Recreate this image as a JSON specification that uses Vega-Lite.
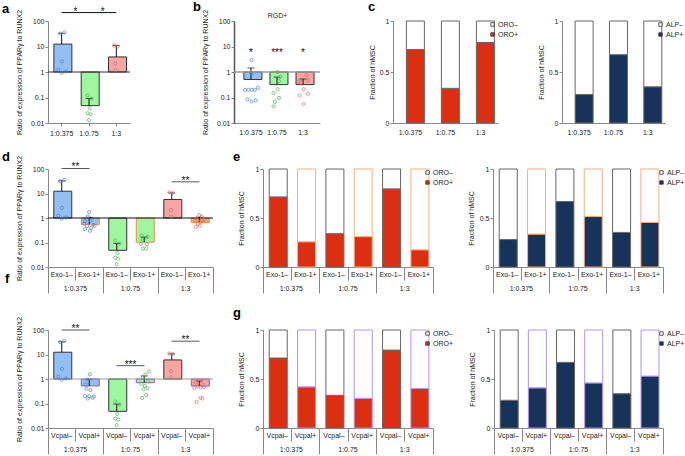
{
  "$schema": "https://vega.github.io/schema/vega-lite/v6.json",
  "padding": {"left": 2, "top": 0, "right": 0, "bottom": 0},
  "config": {
    "font": "Liberation Sans",
    "view": {"stroke": null},
    "axis": {"labelFontSize": 7, "titleFontSize": 7, "titleFontWeight": "normal", "labelColor": "#222", "titleColor": "#222", "domainColor": "#888", "tickColor": "#888", "grid": false, "tickSize": 3, "labelPadding": 1, "labelAngle": 0},
    "legend": {"labelFontSize": 7, "labelColor": "#222", "symbolType": "square", "symbolSize": 12, "symbolStrokeColor": "#333", "symbolStrokeWidth": 0.8, "rowPadding": 2, "padding": 0, "title": null, "labelOffset": 2},
    "title": {"fontSize": 13, "fontWeight": "bold", "anchor": "start", "frame": "group", "color": "#000", "baseline": "alphabetic", "offset": 5}
  },
  "datasets": {
    "a_bar": [
      {"c": "1:0.375", "m": 12.4, "hi": 33},
      {"c": "1:0.75", "m": 0.048, "hi": 0.092},
      {"c": "1:3", "m": 3.9, "hi": 11}
    ],
    "a_pt": [
      {"c": "1:0.375", "v": 36, "j": 0.2}, {"c": "1:0.375", "v": 32, "j": -0.1}, {"c": "1:0.375", "v": 2.6, "j": 0.02}, {"c": "1:0.375", "v": 1.25, "j": -0.25}, {"c": "1:0.375", "v": 0.93, "j": 0.0}, {"c": "1:0.375", "v": 1.05, "j": 0.32},
      {"c": "1:0.75", "v": 0.12, "j": -0.1}, {"c": "1:0.75", "v": 0.09, "j": 0.2}, {"c": "1:0.75", "v": 0.037, "j": 0.05}, {"c": "1:0.75", "v": 0.024, "j": -0.1}, {"c": "1:0.75", "v": 0.022, "j": 0.12}, {"c": "1:0.75", "v": 0.013, "j": 0.0},
      {"c": "1:3", "v": 11, "j": -0.17}, {"c": "1:3", "v": 10, "j": 0.08}, {"c": "1:3", "v": 2.2, "j": -0.07}, {"c": "1:3", "v": 1.15, "j": -0.07}
    ],
    "a_sig": [
      {"c": "1:0.375", "to": "1:0.75", "y": 214, "label": "*"},
      {"c": "1:0.75", "to": "1:3", "y": 214, "label": "*"}
    ],
    "b_bar": [
      {"c": "1:0.375", "m": 0.51, "hi": 1.44},
      {"c": "1:0.75", "m": 0.32, "hi": 0.63},
      {"c": "1:3", "m": 0.32, "hi": 0.53}
    ],
    "b_pt": [
      {"c": "1:0.375", "v": 2.9, "j": 0}, {"c": "1:0.375", "v": 0.85, "j": 0}, {"c": "1:0.375", "v": 0.2, "j": -0.48}, {"c": "1:0.375", "v": 0.2, "j": -0.23}, {"c": "1:0.375", "v": 0.2, "j": 0.02}, {"c": "1:0.375", "v": 0.2, "j": 0.23}, {"c": "1:0.375", "v": 0.24, "j": 0.46}, {"c": "1:0.375", "v": 0.085, "j": -0.3}, {"c": "1:0.375", "v": 0.07, "j": 0}, {"c": "1:0.375", "v": 0.077, "j": 0.3},
      {"c": "1:0.75", "v": 1.0, "j": 0}, {"c": "1:0.75", "v": 0.65, "j": 0.2}, {"c": "1:0.75", "v": 0.44, "j": 0.1}, {"c": "1:0.75", "v": 0.21, "j": 0}, {"c": "1:0.75", "v": 0.15, "j": -0.3}, {"c": "1:0.75", "v": 0.097, "j": 0.1}, {"c": "1:0.75", "v": 0.068, "j": -0.2}, {"c": "1:0.75", "v": 0.045, "j": -0.3},
      {"c": "1:3", "v": 0.74, "j": 0.2}, {"c": "1:3", "v": 0.47, "j": 0.3}, {"c": "1:3", "v": 0.38, "j": -0.2}, {"c": "1:3", "v": 0.42, "j": -0.4}, {"c": "1:3", "v": 0.21, "j": 0}, {"c": "1:3", "v": 0.14, "j": 0.3}, {"c": "1:3", "v": 0.12, "j": -0.3}, {"c": "1:3", "v": 0.056, "j": 0}
    ],
    "b_sig": [
      {"c": "1:0.375", "y": 5, "label": "*"},
      {"c": "1:0.75", "y": 5, "label": "***"},
      {"c": "1:3", "y": 5, "label": "*"}
    ],
    "c_oro": [
      {"c": "1:0.375", "s": "ORO+", "f": 0.72}, {"c": "1:0.375", "s": "ORO–", "f": 0.28},
      {"c": "1:0.75", "s": "ORO+", "f": 0.34}, {"c": "1:0.75", "s": "ORO–", "f": 0.66},
      {"c": "1:3", "s": "ORO+", "f": 0.79}, {"c": "1:3", "s": "ORO–", "f": 0.21}
    ],
    "c_alp": [
      {"c": "1:0.375", "s": "ALP+", "f": 0.28}, {"c": "1:0.375", "s": "ALP–", "f": 0.72},
      {"c": "1:0.75", "s": "ALP+", "f": 0.67}, {"c": "1:0.75", "s": "ALP–", "f": 0.33},
      {"c": "1:3", "s": "ALP+", "f": 0.355}, {"c": "1:3", "s": "ALP–", "f": 0.645}
    ],
    "d_bar": [
      {"k": "1:0.375 Exo-1–", "g": "1:0.375", "t": "Exo-1–", "m": 12.4, "hi": 33},
      {"k": "1:0.375 Exo-1+", "g": "1:0.375", "t": "Exo-1+", "m": 0.55, "hi": 1.07},
      {"k": "1:0.75 Exo-1–", "g": "1:0.75", "t": "Exo-1–", "m": 0.048, "hi": 0.092},
      {"k": "1:0.75 Exo-1+", "g": "1:0.75", "t": "Exo-1+", "m": 0.103, "hi": 0.166},
      {"k": "1:3 Exo-1–", "g": "1:3", "t": "Exo-1–", "m": 5.7, "hi": 10.6},
      {"k": "1:3 Exo-1+", "g": "1:3", "t": "Exo-1+", "m": 0.66, "hi": 1.07}
    ],
    "d_pt": [
      {"k": "1:0.375 Exo-1–", "g": "1:0.375", "v": 36, "j": 0.2}, {"k": "1:0.375 Exo-1–", "g": "1:0.375", "v": 32, "j": -0.1}, {"k": "1:0.375 Exo-1–", "g": "1:0.375", "v": 2.6, "j": 0.02}, {"k": "1:0.375 Exo-1–", "g": "1:0.375", "v": 1.25, "j": -0.25}, {"k": "1:0.375 Exo-1–", "g": "1:0.375", "v": 0.93, "j": 0.0}, {"k": "1:0.375 Exo-1–", "g": "1:0.375", "v": 1.05, "j": 0.32},
      {"k": "1:0.375 Exo-1+", "g": "1:0.375", "v": 1.76, "j": 0.0}, {"k": "1:0.375 Exo-1+", "g": "1:0.375", "v": 1.17, "j": -0.1}, {"k": "1:0.375 Exo-1+", "g": "1:0.375", "v": 0.78, "j": 0.1}, {"k": "1:0.375 Exo-1+", "g": "1:0.375", "v": 0.58, "j": -0.35}, {"k": "1:0.375 Exo-1+", "g": "1:0.375", "v": 0.53, "j": 0.3}, {"k": "1:0.375 Exo-1+", "g": "1:0.375", "v": 0.47, "j": -0.15}, {"k": "1:0.375 Exo-1+", "g": "1:0.375", "v": 0.39, "j": 0.15}, {"k": "1:0.375 Exo-1+", "g": "1:0.375", "v": 0.35, "j": -0.3}, {"k": "1:0.375 Exo-1+", "g": "1:0.375", "v": 0.30, "j": 0.05}, {"k": "1:0.375 Exo-1+", "g": "1:0.375", "v": 0.48, "j": 0.4}, {"k": "1:0.375 Exo-1+", "g": "1:0.375", "v": 0.75, "j": -0.3},
      {"k": "1:0.75 Exo-1–", "g": "1:0.75", "v": 0.12, "j": -0.1}, {"k": "1:0.75 Exo-1–", "g": "1:0.75", "v": 0.09, "j": 0.2}, {"k": "1:0.75 Exo-1–", "g": "1:0.75", "v": 0.037, "j": 0.05}, {"k": "1:0.75 Exo-1–", "g": "1:0.75", "v": 0.024, "j": -0.1}, {"k": "1:0.75 Exo-1–", "g": "1:0.75", "v": 0.022, "j": 0.12}, {"k": "1:0.75 Exo-1–", "g": "1:0.75", "v": 0.013, "j": 0.0},
      {"k": "1:0.75 Exo-1+", "g": "1:0.75", "v": 0.19, "j": -0.2}, {"k": "1:0.75 Exo-1+", "g": "1:0.75", "v": 0.17, "j": 0.25}, {"k": "1:0.75 Exo-1+", "g": "1:0.75", "v": 0.146, "j": 0.0}, {"k": "1:0.75 Exo-1+", "g": "1:0.75", "v": 0.13, "j": -0.1}, {"k": "1:0.75 Exo-1+", "g": "1:0.75", "v": 0.088, "j": -0.25}, {"k": "1:0.75 Exo-1+", "g": "1:0.75", "v": 0.057, "j": -0.1}, {"k": "1:0.75 Exo-1+", "g": "1:0.75", "v": 0.057, "j": 0.15}, {"k": "1:0.75 Exo-1+", "g": "1:0.75", "v": 0.085, "j": 0.2},
      {"k": "1:3 Exo-1–", "g": "1:3", "v": 11, "j": -0.17}, {"k": "1:3 Exo-1–", "g": "1:3", "v": 10.5, "j": 0.08}, {"k": "1:3 Exo-1–", "g": "1:3", "v": 2.1, "j": -0.05}, {"k": "1:3 Exo-1–", "g": "1:3", "v": 1.15, "j": -0.05},
      {"k": "1:3 Exo-1+", "g": "1:3", "v": 1.33, "j": 0.0}, {"k": "1:3 Exo-1+", "g": "1:3", "v": 1.1, "j": 0.2}, {"k": "1:3 Exo-1+", "g": "1:3", "v": 0.94, "j": -0.2}, {"k": "1:3 Exo-1+", "g": "1:3", "v": 0.85, "j": 0.35}, {"k": "1:3 Exo-1+", "g": "1:3", "v": 0.78, "j": -0.3}, {"k": "1:3 Exo-1+", "g": "1:3", "v": 0.69, "j": 0.1}, {"k": "1:3 Exo-1+", "g": "1:3", "v": 0.58, "j": -0.1}, {"k": "1:3 Exo-1+", "g": "1:3", "v": 0.48, "j": 0.05}, {"k": "1:3 Exo-1+", "g": "1:3", "v": 0.43, "j": -0.25}, {"k": "1:3 Exo-1+", "g": "1:3", "v": 0.8, "j": 0.2}
    ],
    "d_sig": [
      {"g": "1:0.375", "y": 105, "label": "**"},
      {"g": "1:3", "y": 30, "label": "**"}
    ],
    "e_oro": [
      {"k": "1:0.375 Exo-1–", "g": "1:0.375", "t": "Exo-1–", "s": "ORO+", "f": 0.715}, {"k": "1:0.375 Exo-1–", "g": "1:0.375", "t": "Exo-1–", "s": "ORO–", "f": 0.285},
      {"k": "1:0.375 Exo-1+", "g": "1:0.375", "t": "Exo-1+", "s": "ORO+", "f": 0.258}, {"k": "1:0.375 Exo-1+", "g": "1:0.375", "t": "Exo-1+", "s": "ORO–", "f": 0.742},
      {"k": "1:0.75 Exo-1–", "g": "1:0.75", "t": "Exo-1–", "s": "ORO+", "f": 0.34}, {"k": "1:0.75 Exo-1–", "g": "1:0.75", "t": "Exo-1–", "s": "ORO–", "f": 0.66},
      {"k": "1:0.75 Exo-1+", "g": "1:0.75", "t": "Exo-1+", "s": "ORO+", "f": 0.31}, {"k": "1:0.75 Exo-1+", "g": "1:0.75", "t": "Exo-1+", "s": "ORO–", "f": 0.69},
      {"k": "1:3 Exo-1–", "g": "1:3", "t": "Exo-1–", "s": "ORO+", "f": 0.797}, {"k": "1:3 Exo-1–", "g": "1:3", "t": "Exo-1–", "s": "ORO–", "f": 0.203},
      {"k": "1:3 Exo-1+", "g": "1:3", "t": "Exo-1+", "s": "ORO+", "f": 0.176}, {"k": "1:3 Exo-1+", "g": "1:3", "t": "Exo-1+", "s": "ORO–", "f": 0.824}
    ],
    "e_alp": [
      {"k": "1:0.375 Exo-1–", "g": "1:0.375", "t": "Exo-1–", "s": "ALP+", "f": 0.28}, {"k": "1:0.375 Exo-1–", "g": "1:0.375", "t": "Exo-1–", "s": "ALP–", "f": 0.72},
      {"k": "1:0.375 Exo-1+", "g": "1:0.375", "t": "Exo-1+", "s": "ALP+", "f": 0.336}, {"k": "1:0.375 Exo-1+", "g": "1:0.375", "t": "Exo-1+", "s": "ALP–", "f": 0.664},
      {"k": "1:0.75 Exo-1–", "g": "1:0.75", "t": "Exo-1–", "s": "ALP+", "f": 0.668}, {"k": "1:0.75 Exo-1–", "g": "1:0.75", "t": "Exo-1–", "s": "ALP–", "f": 0.332},
      {"k": "1:0.75 Exo-1+", "g": "1:0.75", "t": "Exo-1+", "s": "ALP+", "f": 0.515}, {"k": "1:0.75 Exo-1+", "g": "1:0.75", "t": "Exo-1+", "s": "ALP–", "f": 0.485},
      {"k": "1:3 Exo-1–", "g": "1:3", "t": "Exo-1–", "s": "ALP+", "f": 0.353}, {"k": "1:3 Exo-1–", "g": "1:3", "t": "Exo-1–", "s": "ALP–", "f": 0.647},
      {"k": "1:3 Exo-1+", "g": "1:3", "t": "Exo-1+", "s": "ALP+", "f": 0.454}, {"k": "1:3 Exo-1+", "g": "1:3", "t": "Exo-1+", "s": "ALP–", "f": 0.546}
    ],
    "f_bar": [
      {"k": "1:0.375 Vcpal–", "g": "1:0.375", "t": "Vcpal–", "m": 12.4, "hi": 33},
      {"k": "1:0.375 Vcpal+", "g": "1:0.375", "t": "Vcpal+", "m": 0.52, "hi": 0.97},
      {"k": "1:0.75 Vcpal–", "g": "1:0.75", "t": "Vcpal–", "m": 0.048, "hi": 0.095},
      {"k": "1:0.75 Vcpal+", "g": "1:0.75", "t": "Vcpal+", "m": 0.71, "hi": 1.33},
      {"k": "1:3 Vcpal–", "g": "1:3", "t": "Vcpal–", "m": 6.0, "hi": 10.6},
      {"k": "1:3 Vcpal+", "g": "1:3", "t": "Vcpal+", "m": 0.52, "hi": 0.83}
    ],
    "f_pt": [
      {"k": "1:0.375 Vcpal–", "g": "1:0.375", "v": 36, "j": 0.2}, {"k": "1:0.375 Vcpal–", "g": "1:0.375", "v": 32, "j": -0.1}, {"k": "1:0.375 Vcpal–", "g": "1:0.375", "v": 2.6, "j": 0.02}, {"k": "1:0.375 Vcpal–", "g": "1:0.375", "v": 1.25, "j": -0.25}, {"k": "1:0.375 Vcpal–", "g": "1:0.375", "v": 0.93, "j": 0.0}, {"k": "1:0.375 Vcpal–", "g": "1:0.375", "v": 1.05, "j": 0.32},
      {"k": "1:0.375 Vcpal+", "g": "1:0.375", "v": 1.55, "j": 0.05}, {"k": "1:0.375 Vcpal+", "g": "1:0.375", "v": 0.94, "j": -0.1}, {"k": "1:0.375 Vcpal+", "g": "1:0.375", "v": 0.6, "j": -0.25}, {"k": "1:0.375 Vcpal+", "g": "1:0.375", "v": 0.4, "j": -0.2}, {"k": "1:0.375 Vcpal+", "g": "1:0.375", "v": 0.35, "j": 0.1}, {"k": "1:0.375 Vcpal+", "g": "1:0.375", "v": 0.2, "j": -0.3}, {"k": "1:0.375 Vcpal+", "g": "1:0.375", "v": 0.2, "j": 0.0}, {"k": "1:0.375 Vcpal+", "g": "1:0.375", "v": 0.17, "j": 0.25}, {"k": "1:0.375 Vcpal+", "g": "1:0.375", "v": 0.16, "j": -0.1}, {"k": "1:0.375 Vcpal+", "g": "1:0.375", "v": 0.19, "j": 0.35},
      {"k": "1:0.75 Vcpal–", "g": "1:0.75", "v": 0.12, "j": -0.1}, {"k": "1:0.75 Vcpal–", "g": "1:0.75", "v": 0.09, "j": 0.2}, {"k": "1:0.75 Vcpal–", "g": "1:0.75", "v": 0.037, "j": 0.05}, {"k": "1:0.75 Vcpal–", "g": "1:0.75", "v": 0.024, "j": -0.1}, {"k": "1:0.75 Vcpal–", "g": "1:0.75", "v": 0.022, "j": 0.12}, {"k": "1:0.75 Vcpal–", "g": "1:0.75", "v": 0.013, "j": 0.0},
      {"k": "1:0.75 Vcpal+", "g": "1:0.75", "v": 2.06, "j": 0.35}, {"k": "1:0.75 Vcpal+", "g": "1:0.75", "v": 1.55, "j": 0.1}, {"k": "1:0.75 Vcpal+", "g": "1:0.75", "v": 1.2, "j": -0.1}, {"k": "1:0.75 Vcpal+", "g": "1:0.75", "v": 0.8, "j": 0.3}, {"k": "1:0.75 Vcpal+", "g": "1:0.75", "v": 0.63, "j": -0.2}, {"k": "1:0.75 Vcpal+", "g": "1:0.75", "v": 0.52, "j": 0.05}, {"k": "1:0.75 Vcpal+", "g": "1:0.75", "v": 0.42, "j": 0.25}, {"k": "1:0.75 Vcpal+", "g": "1:0.75", "v": 0.38, "j": -0.05}, {"k": "1:0.75 Vcpal+", "g": "1:0.75", "v": 0.22, "j": 0.15}, {"k": "1:0.75 Vcpal+", "g": "1:0.75", "v": 0.17, "j": -0.15},
      {"k": "1:3 Vcpal–", "g": "1:3", "v": 11, "j": -0.17}, {"k": "1:3 Vcpal–", "g": "1:3", "v": 10.5, "j": 0.08}, {"k": "1:3 Vcpal–", "g": "1:3", "v": 2.1, "j": -0.05}, {"k": "1:3 Vcpal–", "g": "1:3", "v": 1.15, "j": -0.05},
      {"k": "1:3 Vcpal+", "g": "1:3", "v": 0.78, "j": 0.0}, {"k": "1:3 Vcpal+", "g": "1:3", "v": 0.71, "j": -0.25}, {"k": "1:3 Vcpal+", "g": "1:3", "v": 0.57, "j": 0.25}, {"k": "1:3 Vcpal+", "g": "1:3", "v": 0.5, "j": -0.1}, {"k": "1:3 Vcpal+", "g": "1:3", "v": 0.46, "j": 0.35}, {"k": "1:3 Vcpal+", "g": "1:3", "v": 0.43, "j": -0.35}, {"k": "1:3 Vcpal+", "g": "1:3", "v": 0.17, "j": 0.1}, {"k": "1:3 Vcpal+", "g": "1:3", "v": 0.115, "j": -0.2}, {"k": "1:3 Vcpal+", "g": "1:3", "v": 0.16, "j": 0.25}, {"k": "1:3 Vcpal+", "g": "1:3", "v": 0.45, "j": 0.1}
    ],
    "f_sig": [
      {"g": "1:0.375", "y": 100, "label": "**"},
      {"g": "1:0.75", "y": 3.5, "label": "***"},
      {"g": "1:3", "y": 35, "label": "**"}
    ],
    "g_oro": [
      {"k": "1:0.375 Vcpal–", "g": "1:0.375", "t": "Vcpal–", "s": "ORO+", "f": 0.714}, {"k": "1:0.375 Vcpal–", "g": "1:0.375", "t": "Vcpal–", "s": "ORO–", "f": 0.286},
      {"k": "1:0.375 Vcpal+", "g": "1:0.375", "t": "Vcpal+", "s": "ORO+", "f": 0.42}, {"k": "1:0.375 Vcpal+", "g": "1:0.375", "t": "Vcpal+", "s": "ORO–", "f": 0.58},
      {"k": "1:0.75 Vcpal–", "g": "1:0.75", "t": "Vcpal–", "s": "ORO+", "f": 0.333}, {"k": "1:0.75 Vcpal–", "g": "1:0.75", "t": "Vcpal–", "s": "ORO–", "f": 0.667},
      {"k": "1:0.75 Vcpal+", "g": "1:0.75", "t": "Vcpal+", "s": "ORO+", "f": 0.303}, {"k": "1:0.75 Vcpal+", "g": "1:0.75", "t": "Vcpal+", "s": "ORO–", "f": 0.697},
      {"k": "1:3 Vcpal–", "g": "1:3", "t": "Vcpal–", "s": "ORO+", "f": 0.795}, {"k": "1:3 Vcpal–", "g": "1:3", "t": "Vcpal–", "s": "ORO–", "f": 0.205},
      {"k": "1:3 Vcpal+", "g": "1:3", "t": "Vcpal+", "s": "ORO+", "f": 0.404}, {"k": "1:3 Vcpal+", "g": "1:3", "t": "Vcpal+", "s": "ORO–", "f": 0.596}
    ],
    "g_alp": [
      {"k": "1:0.375 Vcpal–", "g": "1:0.375", "t": "Vcpal–", "s": "ALP+", "f": 0.283}, {"k": "1:0.375 Vcpal–", "g": "1:0.375", "t": "Vcpal–", "s": "ALP–", "f": 0.717},
      {"k": "1:0.375 Vcpal+", "g": "1:0.375", "t": "Vcpal+", "s": "ALP+", "f": 0.41}, {"k": "1:0.375 Vcpal+", "g": "1:0.375", "t": "Vcpal+", "s": "ALP–", "f": 0.59},
      {"k": "1:0.75 Vcpal–", "g": "1:0.75", "t": "Vcpal–", "s": "ALP+", "f": 0.67}, {"k": "1:0.75 Vcpal–", "g": "1:0.75", "t": "Vcpal–", "s": "ALP–", "f": 0.33},
      {"k": "1:0.75 Vcpal+", "g": "1:0.75", "t": "Vcpal+", "s": "ALP+", "f": 0.46}, {"k": "1:0.75 Vcpal+", "g": "1:0.75", "t": "Vcpal+", "s": "ALP–", "f": 0.54},
      {"k": "1:3 Vcpal–", "g": "1:3", "t": "Vcpal–", "s": "ALP+", "f": 0.35}, {"k": "1:3 Vcpal–", "g": "1:3", "t": "Vcpal–", "s": "ALP–", "f": 0.65},
      {"k": "1:3 Vcpal+", "g": "1:3", "t": "Vcpal+", "s": "ALP+", "f": 0.53}, {"k": "1:3 Vcpal+", "g": "1:3", "t": "Vcpal+", "s": "ALP–", "f": 0.47}
    ],
    "one": [{}]
  },
  "resolve": {"scale": {"fill": "independent", "stroke": "independent", "color": "independent"}},
  "bounds": "flush",
  "spacing": 148,
  "vconcat": [
    {
      "bounds": "flush",
      "spacing": 104,
      "resolve": {"scale": {"fill": "independent", "stroke": "independent", "color": "independent"}},
      "hconcat": [
        {
          "width": 82, "height": 102,
          "title": {"text": "a", "dx": -46, "dy": 14},
          "layer": [
            {"data": {"name": "a_bar"}, "mark": {"type": "bar", "width": {"band": 0.57}, "stroke": "#333", "strokeWidth": 1},
             "encoding": {
               "x": {"field": "c", "type": "nominal", "scale": {"domain": ["1:0.375", "1:0.75", "1:3"], "paddingInner": 0, "paddingOuter": 0}, "axis": {"title": null, "tickSize": 3, "labelPadding": 3}},
               "y": {"field": "m", "type": "quantitative", "scale": {"type": "log", "domain": [0.01, 100], "nice": false}, "axis": {"title": "Ratio of expression of PPARγ to RUNX2", "values": [0.01, 0.1, 1, 10, 100], "format": "~g", "titlePadding": 8}},
               "y2": {"datum": 1},
               "fill": {"field": "c", "type": "nominal", "scale": {"domain": ["1:0.375", "1:0.75", "1:3"], "range": ["#93c0f4", "#a0f5a0", "#f6a5a2"]}, "legend": null}
             }},
            {"data": {"name": "a_bar"}, "mark": {"type": "rule", "color": "#111", "strokeWidth": 1},
             "encoding": {"x": {"field": "c", "type": "nominal"}, "y": {"field": "m", "type": "quantitative"}, "y2": {"field": "hi"}}},
            {"data": {"name": "a_bar"}, "mark": {"type": "tick", "orient": "horizontal", "size": 7, "thickness": 1, "color": "#111"},
             "encoding": {"x": {"field": "c", "type": "nominal"}, "y": {"field": "hi", "type": "quantitative"}}},
            {"data": {"name": "one"}, "mark": {"type": "rule", "color": "#333", "strokeWidth": 1}, "encoding": {"y": {"datum": 1}}},
            {"data": {"name": "a_pt"}, "mark": {"type": "point", "filled": false, "size": 10, "strokeWidth": 1},
             "encoding": {
               "x": {"field": "c", "type": "nominal"},
               "xOffset": {"field": "j", "type": "quantitative", "scale": {"domain": [-1, 1]}},
               "y": {"field": "v", "type": "quantitative"},
               "color": {"field": "c", "type": "nominal", "scale": {"domain": ["1:0.375", "1:0.75", "1:3"], "range": ["#4b7fd1", "#4caf50", "#d9696a"]}, "legend": null}
             }},
            {"data": {"name": "a_sig"}, "mark": {"type": "rule", "strokeWidth": 1, "color": "#111"},
             "encoding": {"x": {"field": "c", "type": "nominal"}, "x2": {"field": "to"}, "y": {"field": "y", "type": "quantitative"}}},
            {"data": {"name": "a_sig"}, "mark": {"type": "text", "fontSize": 10, "baseline": "alphabetic", "dy": 2, "color": "#111"},
             "encoding": {"x": {"field": "c", "type": "nominal", "bandPosition": 1}, "y": {"field": "y", "type": "quantitative"}, "text": {"field": "label"}}}
          ]
        },
        {
          "bounds": "flush",
          "spacing": 73,
          "resolve": {"scale": {"fill": "independent", "stroke": "independent", "color": "independent"}},
          "hconcat": [
            {
              "width": 86, "height": 102,
              "title": {"text": "b", "dx": -41, "dy": 9.25},
              "resolve": {"axis": {"x": "independent"}},
              "layer": [
                {"data": {"name": "b_bar"}, "mark": {"type": "bar", "width": {"band": 0.54}, "stroke": "#333", "strokeWidth": 1},
                 "encoding": {
                   "x": {"field": "c", "type": "nominal", "scale": {"domain": ["1:0.375", "1:0.75", "1:3"], "paddingInner": 0, "paddingOuter": 0.15}, "axis": {"orient": "bottom", "title": null, "ticks": false, "labelPadding": 5}},
                   "y": {"field": "m", "type": "quantitative", "scale": {"type": "log", "domain": [0.01, 100], "nice": false}, "axis": {"title": "Ratio of expression of PPARγ to RUNX2", "values": [0.01, 0.1, 1, 10, 100], "format": "~g", "titlePadding": 8, "domainColor": "#555", "domainWidth": 1.5}},
                   "y2": {"datum": 1},
                   "fill": {"field": "c", "type": "nominal", "scale": {"domain": ["1:0.375", "1:0.75", "1:3"], "range": ["#93c0f4", "#a0f5a0", "#f6a5a2"]}, "legend": null}
                 }},
                {"data": {"name": "b_bar"}, "mark": {"type": "rule", "color": "#111", "strokeWidth": 1},
                 "encoding": {"x": {"field": "c", "type": "nominal", "axis": null}, "y": {"field": "m", "type": "quantitative"}, "y2": {"field": "hi"}}},
                {"data": {"name": "b_bar"}, "mark": {"type": "tick", "orient": "horizontal", "size": 7, "thickness": 1, "color": "#111"},
                 "encoding": {"x": {"field": "c", "type": "nominal", "axis": null}, "y": {"field": "hi", "type": "quantitative"}}},
                {"data": {"name": "one"}, "mark": {"type": "rule", "color": "#999", "strokeWidth": 1.5}, "encoding": {"y": {"datum": 1}}},
                {"data": {"name": "b_pt"}, "mark": {"type": "point", "filled": false, "size": 10, "strokeWidth": 1},
                 "encoding": {
                   "x": {"field": "c", "type": "nominal", "axis": null},
                   "xOffset": {"field": "j", "type": "quantitative", "scale": {"domain": [-1, 1]}},
                   "y": {"field": "v", "type": "quantitative"},
                   "color": {"field": "c", "type": "nominal", "scale": {"domain": ["1:0.375", "1:0.75", "1:3"], "range": ["#4b7fd1", "#4caf50", "#d9696a"]}, "legend": null}
                 }},
                {"data": {"name": "b_sig"}, "mark": {"type": "text", "fontSize": 10, "baseline": "alphabetic", "dy": 2, "color": "#111"},
                 "encoding": {"x": {"field": "c", "type": "nominal", "axis": {"orient": "top", "title": "RGD+", "labels": false, "ticks": false, "domain": false, "titlePadding": 3}}, "y": {"field": "y", "type": "quantitative"}, "text": {"field": "label"}}}
              ]
            },
            {
              "bounds": "flush",
              "spacing": 64,
              "resolve": {"scale": {"fill": "independent", "stroke": "independent", "color": "independent"}},
              "hconcat": [
                {
                  "width": 105, "height": 102,
                  "title": {"text": "c", "dx": -25, "dy": 1.5},
                  "data": {"name": "c_oro"},
                  "mark": {"type": "bar", "width": {"band": 0.47}, "stroke": "#666", "strokeWidth": 1},
                  "encoding": {
                    "x": {"field": "c", "type": "nominal", "scale": {"domain": ["1:0.375", "1:0.75", "1:3"], "paddingInner": 0.5, "paddingOuter": 0.25}, "axis": {"title": null, "ticks": false, "labelPadding": 5}},
                    "y": {"field": "f", "type": "quantitative", "stack": "zero", "scale": {"domain": [0, 1], "nice": false}, "axis": {"title": "Fraction of hMSC", "values": [0, 0.5, 1], "format": "~g", "titlePadding": 4}},
                    "fill": {"field": "s", "type": "nominal", "scale": {"domain": ["ORO–", "ORO+"], "range": ["#ffffff", "#dc2e10"]}, "legend": {"orient": "right", "offset": -9}},
                    "order": {"field": "s", "sort": "ascending"}
                  }
                },
                {
                  "width": 103, "height": 102,
                  "data": {"name": "c_alp"},
                  "mark": {"type": "bar", "width": {"band": 0.47}, "stroke": "#666", "strokeWidth": 1},
                  "encoding": {
                    "x": {"field": "c", "type": "nominal", "scale": {"domain": ["1:0.375", "1:0.75", "1:3"], "paddingInner": 0.5, "paddingOuter": 0.25}, "axis": {"title": null, "ticks": false, "labelPadding": 5}},
                    "y": {"field": "f", "type": "quantitative", "stack": "zero", "scale": {"domain": [0, 1], "nice": false}, "axis": {"title": "Fraction of hMSC", "values": [0, 0.5, 1], "format": "~g", "titlePadding": 4}},
                    "fill": {"field": "s", "type": "nominal", "scale": {"domain": ["ALP–", "ALP+"], "range": ["#ffffff", "#17335a"]}, "legend": {"orient": "right", "offset": -8}},
                    "order": {"field": "s", "sort": "ascending"}
                  }
                }
              ]
            }
          ]
        }
      ]
    },
    {
      "bounds": "flush",
      "spacing": 161,
      "resolve": {"scale": {"fill": "independent", "stroke": "independent", "color": "independent"}},
      "vconcat": [
        {
          "bounds": "flush",
          "spacing": 50,
          "resolve": {"scale": {"fill": "independent", "stroke": "independent", "color": "independent"}},
          "hconcat": [
            {
              "width": 165, "height": 98,
              "title": {"text": "d", "dx": -46, "dy": 14},
              "resolve": {"scale": {"x": "independent"}, "axis": {"x": "independent"}},
              "layer": [
                {
                  "layer": [
                    {"data": {"name": "d_bar"}, "mark": {"type": "bar", "width": {"band": 0.58}, "strokeWidth": 1},
                     "encoding": {
                       "x": {"field": "k", "type": "nominal", "scale": {"domain": ["1:0.375 Exo-1–", "1:0.375 Exo-1+", "1:0.75 Exo-1–", "1:0.75 Exo-1+", "1:3 Exo-1–", "1:3 Exo-1+"], "paddingInner": 0, "paddingOuter": 0},
                             "axis": {"orient": "bottom", "title": null, "bandPosition": 1, "tickExtra": true, "tickColor": "#888",
                                      "tickSize": {"condition": {"test": "indexof(''+datum.value, '–') >= 0", "value": 13}, "value": 26},
                                      "labelPadding": {"condition": {"test": "indexof(''+datum.value, '–') >= 0", "value": -10}, "value": -23},
                                      "labelExpr": "split(datum.label, ' ')[1]"}},
                       "y": {"field": "m", "type": "quantitative", "scale": {"type": "log", "domain": [0.01, 100], "nice": false}, "axis": {"title": "Ratio of expression of PPARγ to RUNX2", "values": [0.01, 0.1, 1, 10, 100], "format": "~g", "titlePadding": 8}},
                       "y2": {"datum": 1},
                       "fill": {"field": "g", "type": "nominal", "scale": {"domain": ["1:0.375", "1:0.75", "1:3"], "range": ["#93c0f4", "#a0f5a0", "#f6a5a2"]}, "legend": null},
                       "stroke": {"field": "t", "type": "nominal", "scale": {"domain": ["Exo-1–", "Exo-1+"], "range": ["#333333", "#f28a3a"]}, "legend": null}
                     }},
                    {"data": {"name": "d_bar"}, "mark": {"type": "rule", "color": "#111", "strokeWidth": 1},
                     "encoding": {"x": {"field": "k", "type": "nominal"}, "y": {"field": "m", "type": "quantitative"}, "y2": {"field": "hi"}}},
                    {"data": {"name": "d_bar"}, "mark": {"type": "tick", "orient": "horizontal", "size": 7, "thickness": 1, "color": "#111"},
                     "encoding": {"x": {"field": "k", "type": "nominal"}, "y": {"field": "hi", "type": "quantitative"}}},
                    {"data": {"name": "one"}, "mark": {"type": "rule", "color": "#111", "strokeWidth": 1}, "encoding": {"y": {"datum": 1}}},
                    {"data": {"name": "d_pt"}, "mark": {"type": "point", "filled": false, "size": 10, "strokeWidth": 1},
                     "encoding": {
                       "x": {"field": "k", "type": "nominal"},
                       "xOffset": {"field": "j", "type": "quantitative", "scale": {"domain": [-1, 1]}},
                       "y": {"field": "v", "type": "quantitative"},
                       "color": {"field": "g", "type": "nominal", "scale": {"domain": ["1:0.375", "1:0.75", "1:3"], "range": ["#4b7fd1", "#4caf50", "#d9696a"]}, "legend": null}
                     }}
                  ]
                },
                {
                  "data": {"name": "d_sig"},
                  "encoding": {
                    "x": {"field": "g", "type": "nominal", "scale": {"domain": ["1:0.375", "1:0.75", "1:3"], "paddingInner": 0, "paddingOuter": 0}, "axis": {"orient": "bottom", "title": null, "domain": false, "ticks": false, "labelPadding": 17}},
                    "y": {"field": "y", "type": "quantitative"}
                  },
                  "layer": [
                    {"mark": {"type": "tick", "orient": "horizontal", "size": 28, "thickness": 1, "color": "#111"}},
                    {"mark": {"type": "text", "fontSize": 10, "baseline": "alphabetic", "dy": 2, "color": "#111"}, "encoding": {"text": {"field": "label"}}}
                  ]
                }
              ]
            },
            {
              "bounds": "flush",
              "spacing": 60,
              "resolve": {"scale": {"fill": "independent", "stroke": "independent", "color": "independent"}},
              "hconcat": [
                {
                  "width": 170, "height": 98,
                  "title": {"text": "e", "dx": -30, "dy": 3.5},
                  "resolve": {"scale": {"x": "independent"}, "axis": {"x": "independent"}},
                  "layer": [
                    {"data": {"name": "e_oro"}, "mark": {"type": "bar", "width": {"band": 0.56}, "strokeWidth": 1},
                     "encoding": {
                       "x": {"field": "k", "type": "nominal", "scale": {"domain": ["1:0.375 Exo-1–", "1:0.375 Exo-1+", "1:0.75 Exo-1–", "1:0.75 Exo-1+", "1:3 Exo-1–", "1:3 Exo-1+"], "paddingInner": 0, "paddingOuter": 0},
                             "axis": {"orient": "bottom", "title": null, "bandPosition": 1, "tickExtra": true, "tickColor": "#888",
                                      "tickSize": {"condition": {"test": "indexof(''+datum.value, '–') >= 0", "value": 13}, "value": 26},
                                      "labelPadding": {"condition": {"test": "indexof(''+datum.value, '–') >= 0", "value": -10}, "value": -23},
                                      "labelExpr": "split(datum.label, ' ')[1]"}},
                       "y": {"field": "f", "type": "quantitative", "stack": "zero", "scale": {"domain": [0, 1], "nice": false}, "axis": {"title": "Fraction of hMSC", "values": [0, 0.5, 1], "format": "~g", "titlePadding": 5}},
                       "fill": {"field": "s", "type": "nominal", "scale": {"domain": ["ORO–", "ORO+"], "range": ["#ffffff", "#dc2e10"]}, "legend": {"orient": "right", "offset": -9}},
                       "stroke": {"field": "t", "type": "nominal", "scale": {"domain": ["Exo-1–", "Exo-1+"], "range": ["#666666", "#f6ae80"]}, "legend": null},
                       "order": {"field": "s", "sort": "ascending"}
                     }},
                    {"data": {"name": "e_oro"}, "mark": {"type": "tick", "opacity": 0},
                     "encoding": {"x": {"field": "g", "type": "nominal", "scale": {"domain": ["1:0.375", "1:0.75", "1:3"], "paddingInner": 0, "paddingOuter": 0}, "axis": {"orient": "bottom", "title": null, "domain": false, "ticks": false, "labelPadding": 17}}}}
                  ]
                },
                {
                  "width": 170, "height": 98,
                  "resolve": {"scale": {"x": "independent"}, "axis": {"x": "independent"}},
                  "layer": [
                    {"data": {"name": "e_alp"}, "mark": {"type": "bar", "width": {"band": 0.56}, "strokeWidth": 1},
                     "encoding": {
                       "x": {"field": "k", "type": "nominal", "scale": {"domain": ["1:0.375 Exo-1–", "1:0.375 Exo-1+", "1:0.75 Exo-1–", "1:0.75 Exo-1+", "1:3 Exo-1–", "1:3 Exo-1+"], "paddingInner": 0, "paddingOuter": 0},
                             "axis": {"orient": "bottom", "title": null, "bandPosition": 1, "tickExtra": true, "tickColor": "#888",
                                      "tickSize": {"condition": {"test": "indexof(''+datum.value, '–') >= 0", "value": 13}, "value": 26},
                                      "labelPadding": {"condition": {"test": "indexof(''+datum.value, '–') >= 0", "value": -10}, "value": -23},
                                      "labelExpr": "split(datum.label, ' ')[1]"}},
                       "y": {"field": "f", "type": "quantitative", "stack": "zero", "scale": {"domain": [0, 1], "nice": false}, "axis": {"title": "Fraction of hMSC", "values": [0, 0.5, 1], "format": "~g", "titlePadding": 5}},
                       "fill": {"field": "s", "type": "nominal", "scale": {"domain": ["ALP–", "ALP+"], "range": ["#ffffff", "#17335a"]}, "legend": {"orient": "right", "offset": -5}},
                       "stroke": {"field": "t", "type": "nominal", "scale": {"domain": ["Exo-1–", "Exo-1+"], "range": ["#666666", "#f6ae80"]}, "legend": null},
                       "order": {"field": "s", "sort": "ascending"}
                     }},
                    {"data": {"name": "e_alp"}, "mark": {"type": "tick", "opacity": 0},
                     "encoding": {"x": {"field": "g", "type": "nominal", "scale": {"domain": ["1:0.375", "1:0.75", "1:3"], "paddingInner": 0, "paddingOuter": 0}, "axis": {"orient": "bottom", "title": null, "domain": false, "ticks": false, "labelPadding": 17}}}}
                  ]
                }
              ]
            }
          ]
        },
        {
          "bounds": "flush",
          "spacing": 50,
          "resolve": {"scale": {"fill": "independent", "stroke": "independent", "color": "independent"}},
          "hconcat": [
            {
              "width": 165, "height": 98,
              "title": {"text": "f", "dx": -43, "dy": -25.5},
              "resolve": {"scale": {"x": "independent"}, "axis": {"x": "independent"}},
              "layer": [
                {
                  "layer": [
                    {"data": {"name": "f_bar"}, "mark": {"type": "bar", "width": {"band": 0.58}, "strokeWidth": 1},
                     "encoding": {
                       "x": {"field": "k", "type": "nominal", "scale": {"domain": ["1:0.375 Vcpal–", "1:0.375 Vcpal+", "1:0.75 Vcpal–", "1:0.75 Vcpal+", "1:3 Vcpal–", "1:3 Vcpal+"], "paddingInner": 0, "paddingOuter": 0},
                             "axis": {"orient": "bottom", "title": null, "bandPosition": 1, "tickExtra": true, "tickColor": "#888",
                                      "tickSize": {"condition": {"test": "indexof(''+datum.value, '–') >= 0", "value": 13}, "value": 26},
                                      "labelPadding": {"condition": {"test": "indexof(''+datum.value, '–') >= 0", "value": -10}, "value": -23},
                                      "labelExpr": "split(datum.label, ' ')[1]"}},
                       "y": {"field": "m", "type": "quantitative", "scale": {"type": "log", "domain": [0.01, 100], "nice": false}, "axis": {"title": "Ratio of expression of PPARγ to RUNX2", "values": [0.01, 0.1, 1, 10, 100], "format": "~g", "titlePadding": 8}},
                       "y2": {"datum": 1},
                       "fill": {"field": "g", "type": "nominal", "scale": {"domain": ["1:0.375", "1:0.75", "1:3"], "range": ["#93c0f4", "#a0f5a0", "#f6a5a2"]}, "legend": null},
                       "stroke": {"field": "t", "type": "nominal", "scale": {"domain": ["Vcpal–", "Vcpal+"], "range": ["#333333", "#9b4fd6"]}, "legend": null}
                     }},
                    {"data": {"name": "f_bar"}, "mark": {"type": "rule", "color": "#111", "strokeWidth": 1},
                     "encoding": {"x": {"field": "k", "type": "nominal"}, "y": {"field": "m", "type": "quantitative"}, "y2": {"field": "hi"}}},
                    {"data": {"name": "f_bar"}, "mark": {"type": "tick", "orient": "horizontal", "size": 7, "thickness": 1, "color": "#111"},
                     "encoding": {"x": {"field": "k", "type": "nominal"}, "y": {"field": "hi", "type": "quantitative"}}},
                    {"data": {"name": "one"}, "mark": {"type": "rule", "color": "#999", "strokeWidth": 1.2}, "encoding": {"y": {"datum": 1}}},
                    {"data": {"name": "f_pt"}, "mark": {"type": "point", "filled": false, "size": 10, "strokeWidth": 1},
                     "encoding": {
                       "x": {"field": "k", "type": "nominal"},
                       "xOffset": {"field": "j", "type": "quantitative", "scale": {"domain": [-1, 1]}},
                       "y": {"field": "v", "type": "quantitative"},
                       "color": {"field": "g", "type": "nominal", "scale": {"domain": ["1:0.375", "1:0.75", "1:3"], "range": ["#4b7fd1", "#4caf50", "#d9696a"]}, "legend": null}
                     }}
                  ]
                },
                {
                  "data": {"name": "f_sig"},
                  "encoding": {
                    "x": {"field": "g", "type": "nominal", "scale": {"domain": ["1:0.375", "1:0.75", "1:3"], "paddingInner": 0, "paddingOuter": 0}, "axis": {"orient": "bottom", "title": null, "domain": false, "ticks": false, "labelPadding": 17}},
                    "y": {"field": "y", "type": "quantitative"}
                  },
                  "layer": [
                    {"mark": {"type": "tick", "orient": "horizontal", "size": 28, "thickness": 1, "color": "#111"}},
                    {"mark": {"type": "text", "fontSize": 10, "baseline": "alphabetic", "dy": 2, "color": "#111"}, "encoding": {"text": {"field": "label"}}}
                  ]
                }
              ]
            },
            {
              "bounds": "flush",
              "spacing": 61,
              "resolve": {"scale": {"fill": "independent", "stroke": "independent", "color": "independent"}},
              "hconcat": [
                {
                  "width": 170, "height": 98,
                  "title": {"text": "g", "dx": -30, "dy": -1},
                  "resolve": {"scale": {"x": "independent"}, "axis": {"x": "independent"}},
                  "layer": [
                    {"data": {"name": "g_oro"}, "mark": {"type": "bar", "width": {"band": 0.56}, "strokeWidth": 1},
                     "encoding": {
                       "x": {"field": "k", "type": "nominal", "scale": {"domain": ["1:0.375 Vcpal–", "1:0.375 Vcpal+", "1:0.75 Vcpal–", "1:0.75 Vcpal+", "1:3 Vcpal–", "1:3 Vcpal+"], "paddingInner": 0, "paddingOuter": 0},
                             "axis": {"orient": "bottom", "title": null, "bandPosition": 1, "tickExtra": true, "tickColor": "#888",
                                      "tickSize": {"condition": {"test": "indexof(''+datum.value, '–') >= 0", "value": 13}, "value": 26},
                                      "labelPadding": {"condition": {"test": "indexof(''+datum.value, '–') >= 0", "value": -10}, "value": -23},
                                      "labelExpr": "split(datum.label, ' ')[1]"}},
                       "y": {"field": "f", "type": "quantitative", "stack": "zero", "scale": {"domain": [0, 1], "nice": false}, "axis": {"title": "Fraction of hMSC", "values": [0, 0.5, 1], "format": "~g", "titlePadding": 5}},
                       "fill": {"field": "s", "type": "nominal", "scale": {"domain": ["ORO–", "ORO+"], "range": ["#ffffff", "#dc2e10"]}, "legend": {"orient": "right", "offset": -9}},
                       "stroke": {"field": "t", "type": "nominal", "scale": {"domain": ["Vcpal–", "Vcpal+"], "range": ["#666666", "#b393ea"]}, "legend": null},
                       "order": {"field": "s", "sort": "ascending"}
                     }},
                    {"data": {"name": "g_oro"}, "mark": {"type": "tick", "opacity": 0},
                     "encoding": {"x": {"field": "g", "type": "nominal", "scale": {"domain": ["1:0.375", "1:0.75", "1:3"], "paddingInner": 0, "paddingOuter": 0}, "axis": {"orient": "bottom", "title": null, "domain": false, "ticks": false, "labelPadding": 17}}}}
                  ]
                },
                {
                  "width": 169, "height": 98,
                  "resolve": {"scale": {"x": "independent"}, "axis": {"x": "independent"}},
                  "layer": [
                    {"data": {"name": "g_alp"}, "mark": {"type": "bar", "width": {"band": 0.56}, "strokeWidth": 1},
                     "encoding": {
                       "x": {"field": "k", "type": "nominal", "scale": {"domain": ["1:0.375 Vcpal–", "1:0.375 Vcpal+", "1:0.75 Vcpal–", "1:0.75 Vcpal+", "1:3 Vcpal–", "1:3 Vcpal+"], "paddingInner": 0, "paddingOuter": 0},
                             "axis": {"orient": "bottom", "title": null, "bandPosition": 1, "tickExtra": true, "tickColor": "#888",
                                      "tickSize": {"condition": {"test": "indexof(''+datum.value, '–') >= 0", "value": 13}, "value": 26},
                                      "labelPadding": {"condition": {"test": "indexof(''+datum.value, '–') >= 0", "value": -10}, "value": -23},
                                      "labelExpr": "split(datum.label, ' ')[1]"}},
                       "y": {"field": "f", "type": "quantitative", "stack": "zero", "scale": {"domain": [0, 1], "nice": false}, "axis": {"title": "Fraction of hMSC", "values": [0, 0.5, 1], "format": "~g", "titlePadding": 5}},
                       "fill": {"field": "s", "type": "nominal", "scale": {"domain": ["ALP–", "ALP+"], "range": ["#ffffff", "#17335a"]}, "legend": {"orient": "right", "offset": -5}},
                       "stroke": {"field": "t", "type": "nominal", "scale": {"domain": ["Vcpal–", "Vcpal+"], "range": ["#666666", "#b393ea"]}, "legend": null},
                       "order": {"field": "s", "sort": "ascending"}
                     }},
                    {"data": {"name": "g_alp"}, "mark": {"type": "tick", "opacity": 0},
                     "encoding": {"x": {"field": "g", "type": "nominal", "scale": {"domain": ["1:0.375", "1:0.75", "1:3"], "paddingInner": 0, "paddingOuter": 0}, "axis": {"orient": "bottom", "title": null, "domain": false, "ticks": false, "labelPadding": 17}}}}
                  ]
                }
              ]
            }
          ]
        }
      ]
    }
  ]
}
